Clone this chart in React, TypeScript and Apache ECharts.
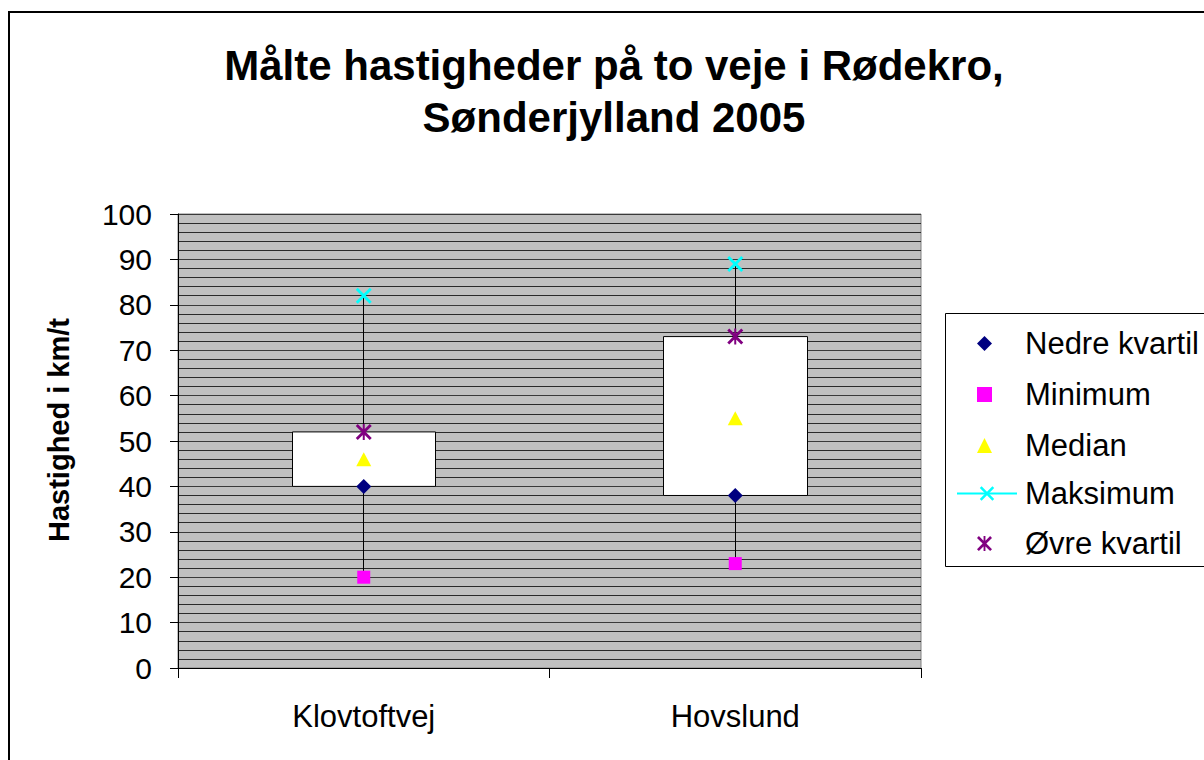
import React, { useEffect, useRef } from "react";
import * as echarts from "echarts";

const categories = ["Klovtoftvej", "Hovslund"];
const nedreKvartil = [40, 38];
const minimum = [20, 23];
const median = [46, 55];
const maksimum = [82, 89];
const oevreKvartil = [52, 73];
const yTicks = { min: 0, max: 100, interval: 10 };

const FONT = "'Liberation Sans', Arial, sans-serif";
const X_PATH =
  "path://M0,2 L2,0 L8,6 L14,0 L16,2 L10,8 L16,14 L14,16 L8,10 L2,16 L0,14 L6,8 Z";
const STAR_PATH =
  "path://M0,2 L2,0 L8,6 L14,0 L16,2 L10,8 L16,14 L14,16 L8,10 L2,16 L0,14 L6,8 Z M7,0 L9,0 L9,16 L7,16 Z";

const legendText = {
  fontFamily: FONT,
  fontSize: 31,
  lineHeight: 30,
  color: "#000",
};

export default function App() {
  const ref = useRef<HTMLDivElement>(null);
  useEffect(() => {
    if (!ref.current) return;
    const chart = echarts.init(ref.current, null, { renderer: "svg" });
    const boxData = categories.map((_, i) => [
      nedreKvartil[i],
      oevreKvartil[i],
      minimum[i],
      maksimum[i],
    ]);
    chart.setOption({
      animation: false,
      backgroundColor: "#ffffff",
      textStyle: { fontFamily: FONT },
      title: {
        text: "Målte hastigheder på to veje i Rødekro,\nSønderjylland 2005",
        left: 609,
        top: 34,
        textAlign: "center",
        textStyle: {
          fontFamily: FONT,
          fontSize: 42,
          fontWeight: "bold",
          color: "#000",
          lineHeight: 52,
        },
      },
      graphic: [
        {
          type: "rect",
          shape: { x: 9, y: 12, width: 1300, height: 800 },
          style: { fill: "none", stroke: "#000", lineWidth: 2 },
          silent: true,
        },
        {
          type: "rect",
          shape: { x: 945.5, y: 313.5, width: 300, height: 253 },
          style: { fill: "none", stroke: "#000", lineWidth: 1 },
          silent: true,
        },
      ],
      legend: [
        {
          orient: "vertical",
          left: 977,
          top: 328,
          padding: 0,
          itemWidth: 15,
          itemHeight: 15,
          itemGap: 20,
          symbolKeepAspect: true,
          textStyle: { ...legendText, padding: [0, 0, 0, 28] },
          data: ["Nedre kvartil", "Minimum", "Median"],
        },
        {
          orient: "vertical",
          left: 956,
          top: 478,
          padding: 0,
          itemWidth: 60,
          itemHeight: 18,
          textStyle: { ...legendText, padding: [0, 0, 0, 3] },
          lineStyle: { opacity: 1, width: 2 },
          data: ["Maksimum"],
        },
        {
          orient: "vertical",
          left: 977,
          top: 528,
          padding: 0,
          itemWidth: 15,
          itemHeight: 15,
          symbolKeepAspect: true,
          textStyle: { ...legendText, padding: [0, 0, 0, 28] },
          data: ["Øvre kvartil"],
        },
      ],
      grid: {
        left: 178,
        right: 283,
        top: 214,
        bottom: 92,
        show: true,
        backgroundColor: "#C0C0C0",
        borderColor: "#808080",
        borderWidth: 1,
      },
      xAxis: {
        type: "category",
        data: categories,
        axisLine: { lineStyle: { color: "#000", width: 1 } },
        axisTick: { show: true, length: 10, lineStyle: { color: "#000" } },
        axisLabel: {
          fontFamily: FONT,
          fontSize: 31,
          color: "#000",
          margin: 33,
        },
        splitLine: { show: false },
      },
      yAxis: {
        type: "value",
        min: yTicks.min,
        max: yTicks.max,
        interval: yTicks.interval,
        name: "Hastighed i km/t",
        nameLocation: "middle",
        nameRotate: 90,
        nameGap: 105,
        nameTextStyle: {
          fontFamily: FONT,
          fontSize: 29,
          fontWeight: "bold",
          color: "#000",
          padding: [0, 0, 0, 22],
        },
        axisLine: { show: true, lineStyle: { color: "#000", width: 1 } },
        axisTick: { show: true, length: 8, lineStyle: { color: "#000" } },
        axisLabel: {
          fontFamily: FONT,
          fontSize: 30,
          color: "#000",
          margin: 26,
        },
        splitLine: { show: true, lineStyle: { color: "#3a3a3a", width: 1 } },
        minorTick: { show: false, splitNumber: 5 },
        minorSplitLine: { show: true, lineStyle: { color: "#2a2a2a", width: 1 } },
      },
      series: [
        {
          name: "box",
          type: "candlestick",
          data: boxData,
          barWidth: 144,
          silent: true,
          z: 2,
          itemStyle: {
            color: "#ffffff",
            color0: "#ffffff",
            borderColor: "#000000",
            borderColor0: "#000000",
            borderWidth: 1,
          },
        },
        {
          name: "Nedre kvartil",
          type: "scatter",
          data: nedreKvartil,
          symbol: "diamond",
          symbolSize: 15,
          z: 5,
          itemStyle: { color: "#000080", opacity: 1 },
        },
        {
          name: "Minimum",
          type: "scatter",
          data: minimum,
          symbol: "rect",
          symbolSize: 13,
          z: 5,
          itemStyle: { color: "#FF00FF", opacity: 1 },
        },
        {
          name: "Median",
          type: "scatter",
          data: median,
          symbol: "triangle",
          symbolSize: [15, 14],
          z: 5,
          itemStyle: { color: "#FFFF00", opacity: 1 },
        },
        {
          name: "Maksimum",
          type: "line",
          data: maksimum,
          symbol: X_PATH,
          symbolSize: 16,
          showAllSymbol: true,
          z: 5,
          itemStyle: { color: "#00FFFF", opacity: 1 },
          lineStyle: { color: "#00FFFF", width: 2, opacity: 0 },
        },
        {
          name: "Øvre kvartil",
          type: "scatter",
          data: oevreKvartil,
          symbol: STAR_PATH,
          symbolSize: 16,
          z: 5,
          itemStyle: { color: "#800080", opacity: 1 },
        },
      ],
    });
    return () => chart.dispose();
  }, []);
  return (
    <div
      ref={ref}
      style={{ position: "fixed", left: 0, top: 0, width: 1204, height: 760 }}
    />
  );
}
